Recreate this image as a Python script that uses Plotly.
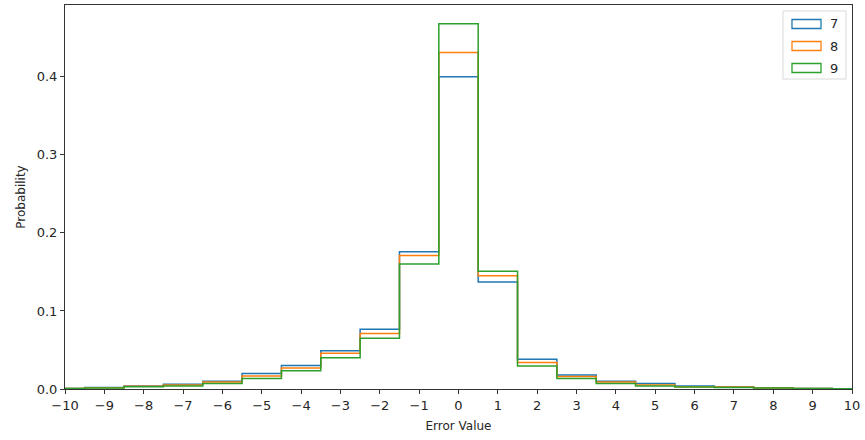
import numpy as np
import plotly.graph_objects as go

# Bin centres (integer error values)
centers = list(range(-10, 11))
series_names = ["7", "8", "9"]
colors = ["#1f77b4", "#ff7f0e", "#2ca02c"]

p7 = [0.0008, 0.002, 0.004, 0.006, 0.010, 0.020, 0.030, 0.049, 0.0765, 0.176, 0.400,
      0.137, 0.038, 0.018, 0.010, 0.007, 0.004, 0.003, 0.0015, 0.0006, 0.0003]
p8 = [0.0007, 0.0017, 0.0035, 0.005, 0.009, 0.0167, 0.027, 0.0457, 0.071, 0.171, 0.431,
      0.145, 0.034, 0.016, 0.009, 0.005, 0.003, 0.0025, 0.0013, 0.0005, 0.0003]
p9 = [0.0006, 0.0014, 0.003, 0.004, 0.007, 0.0135, 0.0235, 0.040, 0.065, 0.160, 0.468,
      0.151, 0.0295, 0.0135, 0.007, 0.004, 0.0025, 0.002, 0.0012, 0.0005, 0.0002]
values = [p7, p8, p9]

x_ticks = list(range(-10, 11))
y_ticks = [0.0, 0.1, 0.2, 0.3, 0.4]

fig = go.Figure()
edges = [c - 0.5 for c in centers] + [centers[-1] + 0.5]
for name, col, vals in zip(series_names, colors, values):
    xs = [edges[0]]
    ys = [0]
    for i, v in enumerate(vals):
        xs += [edges[i], edges[i + 1]]
        ys += [v, v]
    xs.append(edges[-1])
    ys.append(0)
    fig.add_trace(go.Scatter(x=xs, y=ys, mode="lines", name=name,
                             line=dict(color=col, width=1.5), showlegend=False,
                             hoverinfo="skip"))

font = "DejaVu Sans, sans-serif"
fig.update_layout(
    width=865, height=440,
    margin=dict(l=65, r=13, t=5, b=51),
    paper_bgcolor="white", plot_bgcolor="white",
    font=dict(family=font, size=13, color="#262626"),
    xaxis=dict(range=[-10, 10], tickmode="array", tickvals=x_ticks,
               ticks="outside", ticklen=4, tickcolor="#333", showgrid=False,
               zeroline=False, showline=True, linecolor="#333", linewidth=1,
               mirror=True, title=dict(text="Error Value", font=dict(size=12), standoff=10)),
    yaxis=dict(range=[0, 0.492], tickmode="array", tickvals=y_ticks,
               tickformat=".1f", ticks="outside", ticklen=4, tickcolor="#333",
               showgrid=False, zeroline=False, showline=True, linecolor="#333",
               linewidth=1, mirror=True,
               title=dict(text="Probability", font=dict(size=12), standoff=8)),
)

# Custom matplotlib-style legend (outlined rectangles)
def px2x(px):
    return (px - 65) / (852 - 65)

def py2y(py):
    return 1 - (py - 5) / (389 - 5)

fig.add_shape(type="rect", xref="paper", yref="paper",
              x0=px2x(783), x1=px2x(846), y0=py2y(79), y1=py2y(11),
              line=dict(color="#d9d9d9", width=1), fillcolor="rgba(255,255,255,0.8)")
for i, (name, col) in enumerate(zip(series_names, colors)):
    cy = 24 + i * 22
    fig.add_shape(type="rect", xref="paper", yref="paper",
                  x0=px2x(792), x1=px2x(821), y0=py2y(cy + 4.5), y1=py2y(cy - 4.5),
                  line=dict(color=col, width=1.3), fillcolor="rgba(0,0,0,0)")
    fig.add_annotation(xref="paper", yref="paper", x=px2x(828), y=py2y(cy),
                       text=name, showarrow=False, xanchor="left", yanchor="middle",
                       font=dict(size=13, color="#262626", family=font))

fig.write_html("out.html")
